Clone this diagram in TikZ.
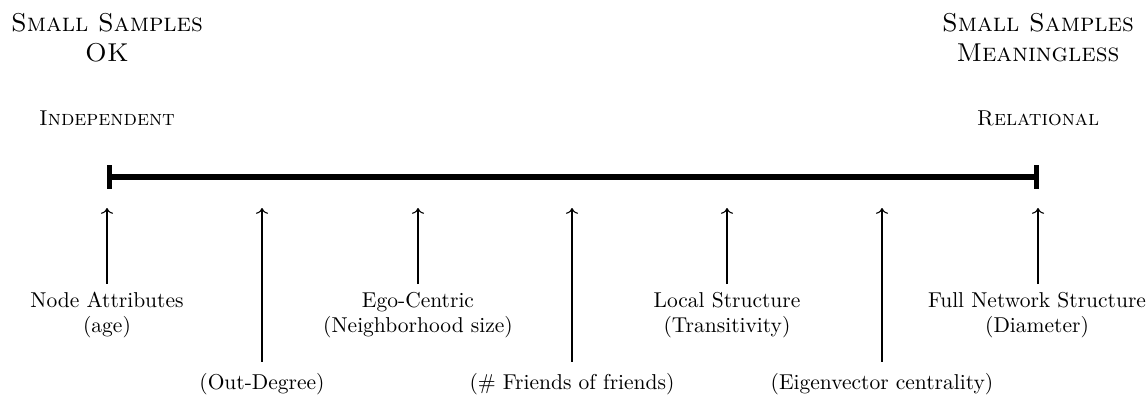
\documentclass[tikz,border=0pt]{standalone}
\usetikzlibrary{arrows.meta}
\begin{document}
\begin{tikzpicture}[x=0.465pt,y=-0.465pt,
  lbl/.style={align=center,font=\normalsize,inner sep=2pt},
  head/.style={align=center,font=\large\scshape,inner sep=0pt},
  sub/.style={font=\scshape,inner sep=0pt},
  pointer/.style={->,line width=0.5pt}]
\useasboundingbox (0,0) rectangle (1148,404);
% scale bar
\coordinate (b0) at (107,177);
\coordinate (b1) at (1039,177);
\draw[line width=2.6pt,{Bar[width=11pt,line width=2.4pt]}-{Bar[width=11pt,line width=2.4pt]}] (b0) -- (b1);
% headings
\node[head] (hl) at (107,38) {Small Samples\\OK};
\node[head] (hr) at (1038,38) {Small Samples\\Meaningless};
\node[sub] (il) at (107,118) {Independent};
\node[sub] (ir) at (1038,118) {Relational};
% arrow targets
\foreach \i/\x in {0/107,1/262,2/418,3/572,4/727,5/882,6/1038}
  \coordinate (t\i) at (\x,208);
% labels
\node[lbl] (l0) at (107,315) {Node Attributes\\(age)};
\node[lbl] (l2) at (418,315) {Ego-Centric\\(Neighborhood size)};
\node[lbl] (l4) at (727,315) {Local Structure\\(Transitivity)};
\node[lbl] (l6) at (1037,315) {Full Network Structure\\(Diameter)};
\node[lbl] (l1) at (262,384) {(Out-Degree)};
\node[lbl] (l3) at (572,384) {(\# Friends of friends)};
\node[lbl] (l5) at (882,384) {(Eigenvector centrality)};
% arrows
\draw[pointer] (l0.north -| t0) ++(0,-3) -- (t0);
\draw[pointer] (l2.north -| t2) ++(0,-3) -- (t2);
\draw[pointer] (l4.north -| t4) ++(0,-3) -- (t4);
\draw[pointer] (l6.north -| t6) ++(0,-3) -- (t6);
\draw[pointer] (l1.north -| t1) ++(0,-7) -- (t1);
\draw[pointer] (l3.north -| t3) ++(0,-7) -- (t3);
\draw[pointer] (l5.north -| t5) ++(0,-7) -- (t5);
\end{tikzpicture}
\end{document}
